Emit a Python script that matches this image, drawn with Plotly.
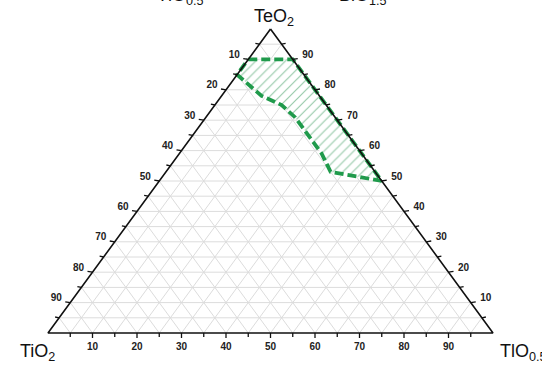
import plotly.graph_objects as go

# ---------------- data ----------------
tick_values = [10, 20, 30, 40, 50, 60, 70, 80, 90]
minor_values = [5, 15, 25, 35, 45, 55, 65, 75, 85, 95]
grid_values = list(range(5, 100, 5))

# glass-forming region boundary: (TeO2, TiO2, TlO0.5) in mol %
region_teo2 = [90, 90, 50, 53, 59, 66, 71, 75, 78, 85, 90]
region_tio2 = [10, 0, 0, 10, 9, 9, 9, 10, 13, 15, 10]
region_tlo = [0, 10, 50, 37, 32, 25, 20, 15, 9, 0, 0]

apex_labels = ["TeO<sub>2</sub>", "TiO<sub>2</sub>", "TlO<sub>0.5</sub>"]
top_cut_labels = ["TlO<sub>0.5</sub>", "BiO<sub>1.5</sub>"]

# ---------------- geometry helpers ----------------
W, H = 542, 365
X0, XR = 48.0, 445.0      # px of left corner, px width of base
YB, YH = 333.0, 304.0     # px of base line, px height of triangle
PX_X = XR / 100.0
PX_Y = YH / 100.0
x_range = [-X0 / PX_X, (W - X0) / PX_X]
y_range = [-(H - YB) / PX_Y, 100 + (YB - YH) / PX_Y]


def to_xy(a, b, c):
    s = a + b + c
    a, c = 100 * a / s, 100 * c / s
    return c + a / 2.0, a


def dx(px):
    return px / PX_X


def dy(px):
    return px / PX_Y


fig = go.Figure()

# ---------------- grid ----------------
gx, gy = [], []
for v in grid_values:
    for p, q in [
        (to_xy(v, 100 - v, 0), to_xy(v, 0, 100 - v)),          # const TeO2
        (to_xy(100 - v, v, 0), to_xy(0, v, 100 - v)),          # const TiO2
        (to_xy(100 - v, 0, v), to_xy(0, 100 - v, v)),          # const TlO0.5
    ]:
        gx += [p[0], q[0], None]
        gy += [p[1], q[1], None]
fig.add_trace(go.Scatter(x=gx, y=gy, mode="lines",
                         line=dict(color="#dcdcdc", width=1),
                         hoverinfo="skip", showlegend=False))

# ---------------- region ----------------
rx, ry = zip(*[to_xy(a, b, c) for a, b, c in zip(region_teo2, region_tio2, region_tlo)])
fig.add_trace(go.Scatter(
    x=list(rx), y=list(ry), mode="lines", fill="toself",
    fillcolor="white",
    fillpattern=dict(shape="/", fgcolor="#2f9455", bgcolor="white",
                     size=7, solidity=0.17),
    line=dict(color="#1f9a4b", width=3.8, dash="9px,4px"),
    hoverinfo="skip", showlegend=False))

# ---------------- axes (triangle) ----------------
corners = [to_xy(100, 0, 0), to_xy(0, 100, 0), to_xy(0, 0, 100), to_xy(100, 0, 0)]
fig.add_trace(go.Scatter(x=[p[0] for p in corners], y=[p[1] for p in corners],
                         mode="lines", line=dict(color="#111111", width=1.6),
                         hoverinfo="skip", showlegend=False))

# ---------------- ticks ----------------
tx, ty = [], []
for v in tick_values + minor_values:
    ln = 5 if v in tick_values else 4
    # bottom axis: TlO0.5
    x, y = to_xy(0, 100 - v, v)
    tx += [x, x, None]
    ty += [y, y - dy(ln), None]
    # left axis: TiO2
    x, y = to_xy(100 - v, v, 0)
    tx += [x, x - dx(ln), None]
    ty += [y, y + dy(0.8), None]
    # right axis: TeO2
    x, y = to_xy(v, 0, 100 - v)
    tx += [x, x + dx(ln), None]
    ty += [y, y + dy(0.8), None]
fig.add_trace(go.Scatter(x=tx, y=ty, mode="lines",
                         line=dict(color="#111111", width=1.3),
                         hoverinfo="skip", showlegend=False))

# ---------------- tick labels ----------------
lab_font = dict(family="Liberation Sans, Arial", size=10, color="#222222")
txt = [f"<b>{v}</b>" for v in tick_values]
bx = [to_xy(0, 100 - v, v)[0] for v in tick_values]
by = [to_xy(0, 100 - v, v)[1] - dy(14) for v in tick_values]
fig.add_trace(go.Scatter(x=bx, y=by, mode="text", text=txt, textfont=lab_font,
                         textposition="middle center", hoverinfo="skip", showlegend=False))
lx = [to_xy(100 - v, v, 0)[0] - dx(14) for v in tick_values]
ly = [to_xy(100 - v, v, 0)[1] + dy(4) for v in tick_values]
fig.add_trace(go.Scatter(x=lx, y=ly, mode="text", text=txt, textfont=lab_font,
                         textposition="middle center", hoverinfo="skip", showlegend=False))
rxl = [to_xy(v, 0, 100 - v)[0] + dx(15) for v in tick_values]
ryl = [to_xy(v, 0, 100 - v)[1] + dy(4) for v in tick_values]
fig.add_trace(go.Scatter(x=rxl, y=ryl, mode="text", text=txt, textfont=lab_font,
                         textposition="middle center", hoverinfo="skip", showlegend=False))

# ---------------- titles ----------------
tfont = dict(family="Liberation Sans, Arial", size=18, color="#111111")
ann = [
    dict(text=apex_labels[0], x=274 / W, y=1 - 17 / H, xanchor="center", yanchor="middle"),
    dict(text=apex_labels[1], x=37 / W, y=1 - 352 / H, xanchor="center", yanchor="middle"),
    dict(text=apex_labels[2], x=498 / W, y=1 - 352 / H, xanchor="left", yanchor="middle"),
    dict(text=top_cut_labels[0], x=155 / W, y=1 - (-3) / H, xanchor="left", yanchor="middle"),
    dict(text=top_cut_labels[1], x=337 / W, y=1 - (-3) / H, xanchor="left", yanchor="middle"),
]
for a in ann:
    a.update(xref="paper", yref="paper", showarrow=False, font=tfont)
fig.update_layout(annotations=ann)

fig.update_layout(
    width=W, height=H, margin=dict(l=0, r=0, t=0, b=0),
    paper_bgcolor="white", plot_bgcolor="white",
    xaxis=dict(range=x_range, visible=False, fixedrange=True),
    yaxis=dict(range=y_range, visible=False, fixedrange=True),
    showlegend=False,
)
fig.write_html("out.html")
